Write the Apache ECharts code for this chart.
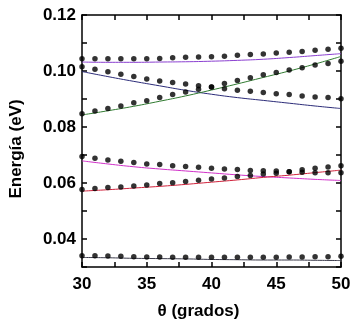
<!DOCTYPE html>
<html>
<head>
<meta charset="utf-8">
<script src="https://cdn.jsdelivr.net/npm/echarts@6/dist/echarts.min.js"></script>
<style>
  html, body { margin: 0; padding: 0; background: #fff; }
  #chart { width: 358px; height: 330px; }
</style>
</head>
<body>
<div id="chart"></div>
<script>
// angles (grados) of the calculated points
const theta = [30, 31, 32, 33, 34, 35, 36, 37, 38, 39, 40, 41, 42, 43, 44, 45, 46, 47, 48, 49, 50]
const dotsTop = [0.1044, 0.1044, 0.1044, 0.1044, 0.1044, 0.1044, 0.1045, 0.1047, 0.1049, 0.1050, 0.1051, 0.1053, 0.1056, 0.1059, 0.1061, 0.1064, 0.1067, 0.1070, 0.1074, 0.1078, 0.1081]
const dotsDown = [0.1015, 0.1006, 0.0997, 0.0988, 0.0980, 0.0971, 0.0964, 0.0959, 0.0954, 0.0947, 0.0943, 0.0937, 0.0931, 0.0928, 0.0923, 0.0919, 0.0916, 0.0911, 0.0907, 0.0905, 0.0901]
const dotsUp = [0.0847, 0.0857, 0.0866, 0.0875, 0.0887, 0.0894, 0.0905, 0.0916, 0.0925, 0.0935, 0.0943, 0.0955, 0.0966, 0.0976, 0.0987, 0.0995, 0.1004, 0.1012, 0.1021, 0.1027, 0.1035]
const dotsMidHigh = [0.0695, 0.0688, 0.0682, 0.0678, 0.0673, 0.0668, 0.0666, 0.0662, 0.0659, 0.0656, 0.0653, 0.0650, 0.0648, 0.0645, 0.0644, 0.0643, 0.0640, 0.0638, 0.0637, 0.0637, 0.0637]
const dotsMidLow = [0.0577, 0.0580, 0.0584, 0.0586, 0.0589, 0.0593, 0.0598, 0.0601, 0.0605, 0.0610, 0.0614, 0.0618, 0.0623, 0.0627, 0.0632, 0.0635, 0.0640, 0.0647, 0.0653, 0.0657, 0.0662]
const dotsBottom = [0.0340, 0.0340, 0.0339, 0.0338, 0.0337, 0.0336, 0.0336, 0.0335, 0.0335, 0.0335, 0.0335, 0.0335, 0.0335, 0.0335, 0.0335, 0.0335, 0.0336, 0.0336, 0.0337, 0.0337, 0.0338]

// curves
const thetaLine = [30, 32, 34, 36, 38, 40, 42, 44, 46, 48, 50]
const linePurple = [0.1032, 0.1031, 0.1031, 0.1032, 0.1033, 0.1035, 0.1038, 0.1042, 0.1048, 0.1055, 0.1062]
const lineNavy = [0.0998, 0.0980, 0.0963, 0.0947, 0.0931, 0.0917, 0.0905, 0.0895, 0.0885, 0.0875, 0.0866]
const lineGreen = [0.0843, 0.0858, 0.0874, 0.0892, 0.0911, 0.0932, 0.0954, 0.0977, 0.1000, 0.1025, 0.1052]
const lineMagenta = [0.0679, 0.0668, 0.0658, 0.0650, 0.0643, 0.0636, 0.0629, 0.0623, 0.0618, 0.0613, 0.0609]
const lineRed = [0.0571, 0.0576, 0.0582, 0.0588, 0.0595, 0.0603, 0.0611, 0.0620, 0.0628, 0.0637, 0.0646]
const lineBottom = [0.0334, 0.0333, 0.0331, 0.0330, 0.0329, 0.0327, 0.0326, 0.0325, 0.0325, 0.0324, 0.0323]

const FONT = "Liberation Sans"
const pair = (xs, ys) => xs.map((x, i) => [x, ys[i]])

const dotSeries = [dotsTop, dotsDown, dotsUp, dotsMidHigh, dotsMidLow, dotsBottom].map(d => ({
  type: "scatter",
  data: pair(theta, d),
  symbolSize: 5.5,
  itemStyle: { color: "#000" },
  z: 3,
}))

const lineSeries = [
  [linePurple, "#8a3fd0"],
  [lineNavy, "#2b2b78"],
  [lineGreen, "#2f7a2f"],
  [lineMagenta, "#d030c8"],
  [lineRed, "#d0203a"],
  [lineBottom, "#3a3a4a"],
].map(([d, c]) => ({
  type: "line",
  data: pair(thetaLine, d),
  smooth: true,
  showSymbol: false,
  lineStyle: { color: c, width: 1 },
  z: 2,
}))

const tickCommon = { inside: true, length: 5, lineStyle: { color: "#000", width: 1.5 } }
const lineCommon = { show: true, lineStyle: { color: "#000", width: 1.5 } }
const labelFont = { color: "#000", fontFamily: FONT, fontWeight: "bold", fontSize: 17 }

const chart = echarts.init(document.getElementById("chart"))
chart.setOption({
  animation: false,
  grid: { left: 78, right: 17, top: 15, bottom: 63 },
  xAxis: [
    {
      type: "value",
      min: 30,
      max: 50,
      interval: 2.5,
      axisLine: lineCommon,
      axisTick: tickCommon,
      splitLine: { show: false },
      axisLabel: {
        ...labelFont,
        margin: 9,
        formatter: v => (v % 5 === 0 ? String(v) : ""),
      },
      name: "θ (grados)",
      nameLocation: "middle",
      nameGap: 36,
      nameTextStyle: { ...labelFont, padding: [0, 26, 0, 0] },
    },
    {
      type: "value",
      position: "top",
      min: 30,
      max: 50,
      interval: 2.5,
      axisLine: lineCommon,
      axisTick: tickCommon,
      axisLabel: { show: false },
      splitLine: { show: false },
    },
  ],
  yAxis: [
    {
      type: "value",
      min: 0.03,
      max: 0.12,
      interval: 0.01,
      axisLine: lineCommon,
      axisTick: tickCommon,
      splitLine: { show: false },
      axisLabel: {
        ...labelFont,
        margin: 6,
        formatter: v => (Math.round(v * 100) % 2 === 0 ? v.toFixed(2) : ""),
      },
      name: "Energía (eV)",
      nameLocation: "middle",
      nameGap: 57,
      nameTextStyle: { ...labelFont, padding: [0, 16, 0, 0] },
    },
    {
      type: "value",
      position: "right",
      min: 0.03,
      max: 0.12,
      interval: 0.01,
      axisLine: lineCommon,
      axisTick: tickCommon,
      axisLabel: { show: false },
      splitLine: { show: false },
    },
  ],
  series: [...lineSeries, ...dotSeries],
})
</script>
</body>
</html>
